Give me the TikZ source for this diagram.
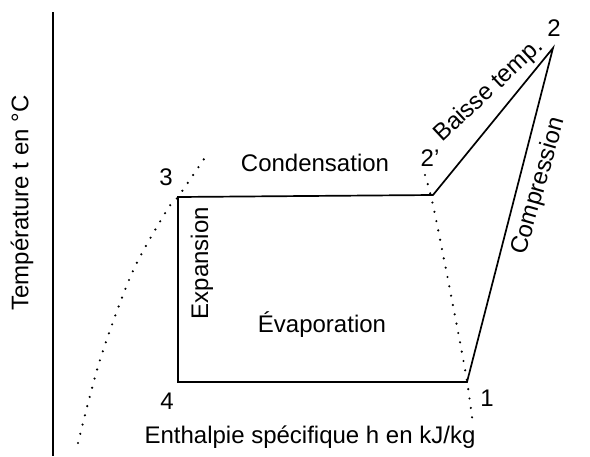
\documentclass[tikz,border=0pt]{standalone}
\usepackage{fontspec}
\setmainfont{Liberation Sans}
\begin{document}
\begin{tikzpicture}[
x=1pt, y=-1pt,
every node/.style={
font=\fontsize{24}{26}\selectfont,
inner sep=0pt
},
cycleline/.style={
line width=1.7pt,
line join=miter
},
dotline/.style={
line width=2.4pt,
line cap=round,
dash pattern=on 0pt off 9.5pt
}
]

\useasboundingbox (0,0) rectangle (590,456);

% axis
\coordinate (atop) at (53,12);
\coordinate (abot) at (53,456);
\draw[line width=1.6pt] (atop) -- (abot);

\node (tlabel) at (22,203) [rotate=90]
{Température t en °C};

\node (hlabel) at (310,437)
{Enthalpie spécifique h en kJ/kg};

% points of the cycle
\coordinate (p1) at (467,382);
\coordinate (p2) at (553,48);
\coordinate (p2p) at (433,195);
\coordinate (p3) at (178,197);
\coordinate (p4) at (178,382);

% saturation curves
\draw[dotline] plot[smooth] coordinates {
(78,443) (100,360) (132,273) (167,210) (178,197) (208,153)};
\draw[dotline] plot[smooth] coordinates {
(425,175) (433,205) (450,290) (466,375) (473,425)};

% cycle
\draw[cycleline] (p3) -- (p2p) -- (p2) -- (p1) -- (p4) -- cycle;

% point labels
\node (n1) at (487,398) {1};
\node (n2) at (554,28) {2};
\node (n2p) at (430,158) {2'};
\node (n3) at (166,177) {3};
\node (n4) at (167,401) {4};

% process labels
\node (cond) at (315,163)
{Condensation};

\node (evap) at (322,325)
{Évaporation};

\node (expa) at (202,263) [rotate=90]
{Expansion};

\node (baisse) at (489,91) [rotate=43]
{Baisse temp.};

\node (compr) at (539,186) [rotate=74]
{Compression};

\end{tikzpicture}
\end{document}
